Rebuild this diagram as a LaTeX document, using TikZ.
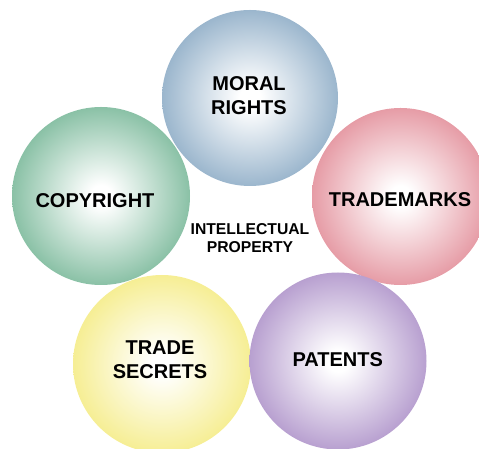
\documentclass[tikz,border=0pt]{standalone}
\usepackage{fontspec}
\setmainfont{Liberation Sans}
\definecolor{moralcol}{RGB}{155,182,205}
\definecolor{trademarkcol}{RGB}{230,156,166}
\definecolor{copycol}{RGB}{138,193,166}
\definecolor{secretcol}{RGB}{246,238,148}
\definecolor{patentcol}{RGB}{184,160,208}
\colorlet{ringcol}{moralcol}
% white core fading into the ring colour at the rim
\pgfdeclareradialshading[ringcol]{ring}{\pgfpoint{0bp}{0bp}}{%
  color(0bp)=(white); color(3bp)=(white);
  color(13bp)=(ringcol!45!white); color(25bp)=(ringcol); color(50bp)=(ringcol)}
\tikzset{
  ball/.style={/utils/exec={\colorlet{ringcol}{#1}}, circle, shading=ring,
    inner sep=0pt, draw=none},
  lbl/.style={font=\bfseries\fontsize{20}{24}\selectfont, align=center,
    inner sep=0pt, text=black},
  hub/.style={font=\bfseries\fontsize{15.7}{17.5}\selectfont, align=center,
    inner sep=0pt, text=black}
}
\begin{document}
\begin{tikzpicture}[x=1pt,y=1pt]
\useasboundingbox (0,0) rectangle (479,449);
\clip (0,0) rectangle (479,449);
% the five rights
\node[ball=moralcol, minimum size=176] (moral) at (250,351) {};
\node[ball=trademarkcol, minimum size=177] (trademarks) at (400.5,252.5) {};
\node[ball=copycol, minimum size=178] (copyright) at (101,253) {};
\node[ball=secretcol, minimum size=178] (secrets) at (162,85) {};
\node[ball=patentcol, minimum size=177] (patents) at (338,88) {};
% labels
\node[lbl] (moraltxt) at (249,353.5) {MORAL\\RIGHTS};
\node[lbl] (trademarkstxt) at (400,249.5) {TRADEMARKS};
\node[lbl] (copyrighttxt) at (95,248.3) {COPYRIGHT};
\node[lbl] (secretstxt) at (160,89) {TRADE\\SECRETS};
\node[lbl] (patentstxt) at (337.7,89) {PATENTS};
\node[hub] (ip) at (250,211) {INTELLECTUAL\\PROPERTY};
\end{tikzpicture}
\end{document}
